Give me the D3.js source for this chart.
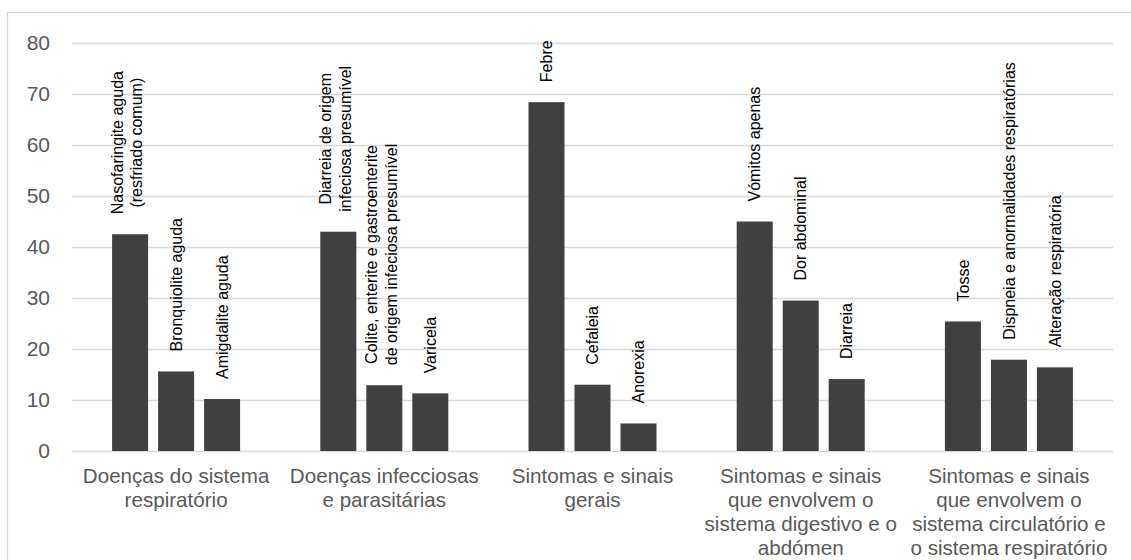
<!DOCTYPE html>
<html>
<head>
<meta charset="utf-8">
<script src="https://cdn.jsdelivr.net/npm/d3@7"></script>
<style>
  html, body { margin: 0; padding: 0; background: #fff; }
  svg { display: block; font-family: "Liberation Sans", Arial, sans-serif; }
</style>
</head>
<body>
<svg id="chart" width="1131" height="560"></svg>
<script>
// Diagnosis groups (category axis), each split over several lines of text
const categories = [
  ["Doenças do sistema", "respiratório"],
  ["Doenças infecciosas", "e parasitárias"],
  ["Sintomas e sinais", "gerais"],
  ["Sintomas e sinais", "que envolvem o", "sistema digestivo e o", "abdómen"],
  ["Sintomas e sinais", "que envolvem o", "sistema circulatório e", "o sistema respiratório"]
];

// Three most frequent diagnoses inside each group
const itemLabels = [
  [["Nasofaringite aguda", "(resfriado comum)"], ["Bronquiolite aguda"], ["Amigdalite aguda"]],
  [["Diarreia de origem", "infeciosa presumível"], ["Colite, enterite e gastroenterite", "de origem infeciosa presumível"], ["Varicela"]],
  [["Febre"], ["Cefaleia"], ["Anorexia"]],
  [["Vómitos apenas"], ["Dor abdominal"], ["Diarreia"]],
  [["Tosse"], ["Dispneia e anormalidades respiratórias"], ["Alteração respiratória"]]
];

const itemValues = [
  [42.5, 15.6, 10.2],
  [43.0, 12.9, 11.3],
  [68.4, 13.0, 5.4],
  [45.0, 29.5, 14.1],
  [25.4, 17.9, 16.4]
];

const yTicks = [0, 10, 20, 30, 40, 50, 60, 70, 80];

// Layout
const plot = { left: 72, right: 1113, top: 43, bottom: 451 };
const svg = d3.select("#chart");

// Outer chart frame
svg.append("rect")
  .attr("x", 7.5).attr("y", 12.5)
  .attr("width", 1140).attr("height", 560)
  .attr("fill", "none").attr("stroke", "#d9d9d9").attr("stroke-width", 1.3);

const x0 = d3.scaleBand()
  .domain(d3.range(categories.length))
  .range([plot.left, plot.right])
  .paddingInner(0).paddingOuter(0);

const x1 = d3.scaleBand()
  .domain([0, 1, 2])
  .range([0, x0.bandwidth()])
  .paddingInner(0.217)
  .paddingOuter(0.872);

const y = d3.scaleLinear().domain([0, 80]).range([plot.bottom, plot.top]);

// Gridlines and value axis
const yAxis = d3.axisLeft(y).tickValues(yTicks).tickSize(-(plot.right - plot.left)).tickPadding(22);
const gy = svg.append("g").attr("transform", `translate(${plot.left},0)`).call(yAxis);
gy.select(".domain").remove();
gy.selectAll(".tick line").attr("stroke", "#d9d9d9").attr("stroke-width", 1.3);
gy.selectAll(".tick text")
  .attr("fill", "#595959")
  .attr("font-size", 21)
  .attr("font-family", "'Liberation Sans', Arial, sans-serif");

// Bars
const groups = svg.append("g").selectAll("g")
  .data(itemValues)
  .join("g")
  .attr("transform", (d, i) => `translate(${x0(i)},0)`);

groups.selectAll("rect")
  .data((d, gi) => d.map((v, k) => ({ v, k, gi })))
  .join("rect")
  .attr("x", d => x1(d.k))
  .attr("width", x1.bandwidth())
  .attr("y", d => y(d.v))
  .attr("height", d => y(0) - y(d.v))
  .attr("fill", "#404040");

// Rotated item labels above each bar
const lineStep = 19.5;
const labelGap = 20;
groups.each(function (vals, gi) {
  const g = d3.select(this);
  vals.forEach((v, k) => {
    const lines = itemLabels[gi][k];
    const cx = x1(k) + x1.bandwidth() / 2 - (lines.length > 1 ? 3 : 0);
    const t = g.append("text")
      .attr("font-size", 16)
      .attr("fill", "#000")
      .attr("text-anchor", "middle");
    lines.forEach((ln, li) => {
      t.append("tspan")
        .attr("x", 0)
        .attr("y", (li - (lines.length - 1) / 2) * lineStep)
        .attr("dy", "0.35em")
        .text(ln);
    });
    const maxLen = d3.max(t.selectAll("tspan").nodes(), n => n.getComputedTextLength());
    const cy = y(v) - labelGap - maxLen / 2;
    t.attr("transform", `translate(${cx},${cy}) rotate(-90)`);
  });
});

// Category labels
svg.append("g").selectAll("text")
  .data(categories)
  .join("text")
  .attr("text-anchor", "middle")
  .attr("font-size", 20.6)
  .attr("fill", "#595959")
  .attr("transform", (d, i) => `translate(${x0(i) + x0.bandwidth() / 2},483)`)
  .selectAll("tspan")
  .data(d => d)
  .join("tspan")
  .attr("x", 0)
  .attr("y", (d, i) => i * 24)
  .text(d => d);
</script>
</body>
</html>
